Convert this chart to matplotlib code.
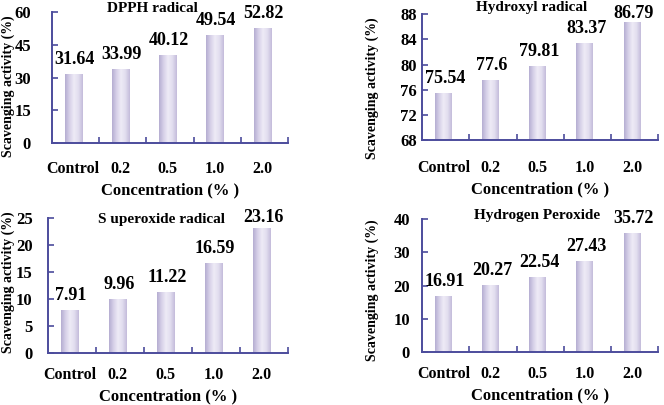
import numpy as np
import matplotlib
matplotlib.use('Agg')
import matplotlib.pyplot as plt
from matplotlib.colors import LinearSegmentedColormap

plt.rcParams['font.family'] = 'Liberation Serif'
plt.rcParams['font.weight'] = 'bold'

# data
categories = ['Control', '0.2', '0.5', '1.0', '2.0']
dpph = [31.64, 33.99, 40.12, 49.54, 52.82]
hydroxyl = [75.54, 77.6, 79.81, 83.37, 86.79]
superoxide = [7.91, 9.96, 11.22, 16.59, 23.16]
peroxide = [16.91, 20.27, 22.54, 27.43, 35.72]
dpph_labels = ['31.64', '33.99', '40.12', '49.54', '52.82']
hydroxyl_labels = ['75.54', '77.6', '79.81', '83.37', '86.79']
superoxide_labels = ['7.91', '9.96', '11.22', '16.59', '23.16']
peroxide_labels = ['16.91', '20.27', '22.54', '27.43', '35.72']

axis_col = '#4c4c9c'
bar_cmap = LinearSegmentedColormap.from_list(
    'lav', ['#b6aed2', '#d6d0e8', '#eeebf6', '#e2deef', '#c4bcdb'])
grad = np.linspace(0, 1, 64).reshape(1, -1)

fig = plt.figure(figsize=(6.64, 4.05), dpi=100)


def panel(rect, vals, labels, ylim, yticks, title, title_xy, ypad, xpad):
    ax = fig.add_axes(rect)
    x = np.arange(len(vals)) + 0.45
    bars = ax.bar(x, np.array(vals) - ylim[0], width=0.36, bottom=ylim[0],
                  color='none', edgecolor='none')
    for b in bars:
        x0, y0 = b.get_x(), b.get_y()
        im = ax.imshow(grad, cmap=bar_cmap, aspect='auto',
                       extent=[x0, x0 + b.get_width(), y0, y0 + b.get_height()],
                       zorder=2)
        im.set_clip_path(b)
    # value labels sit ~10px above bars, squeezed near the top of the axes
    h_px = rect[3] * 405
    for xi, v, s in zip(x, vals, labels):
        room = (ylim[1] - v) / (ylim[1] - ylim[0]) * h_px
        off = max(3, min(10, room - 4))
        ax.annotate(s, (xi, v), xytext=(1, off * 0.72),
                    textcoords='offset points', ha='center', va='baseline',
                    fontsize=13, fontweight='bold')
    ax.set_xlim(0, 5)
    ax.set_ylim(*ylim)
    ax.set_yticks(yticks)
    ax.set_xticks(x)
    ax.set_xticklabels(categories)
    ax.set_xticks(np.arange(1, 6), minor=True)
    ax.tick_params(axis='x', which='major', length=0, pad=xpad,
                   labelsize=11.5)
    ax.tick_params(axis='x', which='minor', length=4, direction='in',
                   color=axis_col, width=1.2)
    ax.tick_params(axis='y', length=4, direction='in', color=axis_col,
                   width=1.2, labelsize=12, pad=ypad)
    for s in ['top', 'right']:
        ax.spines[s].set_visible(False)
    for s in ['left', 'bottom']:
        ax.spines[s].set_color(axis_col)
        ax.spines[s].set_linewidth(1.4)
    ax.set_xlabel('Concentration (% )', fontsize=12, fontweight='bold',
                  labelpad=4)
    fig.text(title_xy[0], title_xy[1], title, ha='center', va='center',
             fontsize=11, fontweight='bold')
    return ax


panel([0.078, 0.647, 0.356, 0.323], dpph, dpph_labels, (0, 60),
      [0, 15, 30, 45, 60], 'DPPH radical', (152 / 664, 1 - 9 / 405),
      15, 13)
panel([0.636, 0.654, 0.355, 0.311], hydroxyl, hydroxyl_labels,
      (68, 88), [68, 72, 76, 80, 84, 88], 'Hydroxyl radical',
      (532 / 664, 1 - 8 / 405), 4, 14)
panel([0.072, 0.128, 0.362, 0.334], superoxide, superoxide_labels,
      (0, 25), [0, 5, 10, 15, 20, 25], 'S uperoxide radical',
      (162 / 664, 1 - 220 / 405), 11, 10)
panel([0.636, 0.131, 0.355, 0.328], peroxide, peroxide_labels,
      (0, 40), [0, 10, 20, 30, 40], 'Hydrogen Peroxide',
      (537 / 664, 1 - 216 / 405), 9, 10)

# y labels
for xy in [(8 / 664, 1 - 86 / 405), (372 / 664, 1 - 88 / 405),
           (8 / 664, 1 - 282 / 405), (372 / 664, 1 - 290 / 405)]:
    fig.text(xy[0], xy[1], 'Scavenging activity (%)', rotation=90,
             ha='center', va='center', fontsize=10, fontweight='bold')

fig.savefig('out.png', dpi=100)
